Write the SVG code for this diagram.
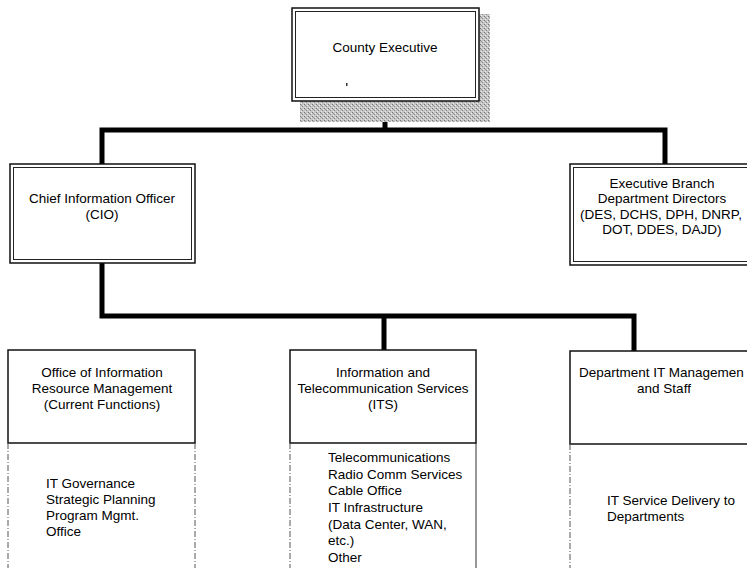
<svg xmlns="http://www.w3.org/2000/svg" width="747" height="568" viewBox="0 0 747 568">
<defs>
<pattern id="stip" width="4" height="4" patternUnits="userSpaceOnUse">
<rect width="4" height="4" fill="#c4c4c4"/>
<rect x="0" y="0" width="1" height="1" fill="#777"/>
<rect x="2" y="2" width="1" height="1" fill="#888"/>
<rect x="3" y="1" width="1" height="1" fill="#eee"/>
<rect x="1" y="3" width="1" height="1" fill="#eee"/>
<rect x="1" y="1" width="1" height="1" fill="#999"/>
</pattern>
</defs>
<style>
text{font-family:"Liberation Sans",Arial,sans-serif;font-size:13.5px;fill:#000}
.c{text-anchor:middle}
.box{fill:#fff;stroke:#111;stroke-width:1.5}
.inner{fill:none;stroke:#222;stroke-width:1}
.dash{fill:none;stroke:#555;stroke-width:1;stroke-dasharray:6 2 1 2}
.conn{fill:none;stroke:#000;stroke-width:5;stroke-linejoin:miter}
</style>
<rect width="747" height="568" fill="#fff"/>

<g id="connectors">
<path class="conn" d="M385 101 V130 M102 164 V130 H665 V164"/>
<path class="conn" d="M102 263 V316 H634 V351 M384 316 V350"/>
</g>

<g id="county-executive">
<rect x="300" y="14" width="190" height="108" fill="url(#stip)"/>
<rect class="box" x="292" y="8" width="187" height="93"/>
<rect class="inner" x="295.5" y="11.5" width="180" height="86"/>
<rect x="346" y="83" width="1.5" height="3" fill="#333"/>
<text class="c" x="385" y="52">County Executive</text>
</g>

<g id="cio">
<rect class="box" x="10" y="164" width="185" height="99"/>
<rect class="inner" x="13.5" y="167.5" width="178" height="92"/>
<text class="c" x="102" y="203">Chief Information Officer</text>
<text class="c" x="102" y="219">(CIO)</text>
</g>

<g id="exec-branch">
<rect class="box" x="570" y="164" width="190" height="101"/>
<rect class="inner" x="573.5" y="167.5" width="190" height="94"/>
<text class="c" x="662" y="188">Executive Branch</text>
<text class="c" x="662" y="203">Department Directors</text>
<text class="c" x="661" y="219">(DES, DCHS, DPH, DNRP,</text>
<text class="c" x="662" y="234">DOT, DDES, DAJD)</text>
</g>

<g id="oirm">
<rect class="box" x="8" y="350" width="187" height="93"/>
<path class="dash" d="M8 443 V568 M195 443 V568"/>
<text class="c" x="102" y="377">Office of Information</text>
<text class="c" x="102" y="393">Resource Management</text>
<text class="c" x="102" y="409">(Current Functions)</text>
<text x="46" y="488">IT Governance</text>
<text x="46" y="504">Strategic Planning</text>
<text x="46" y="520">Program Mgmt.</text>
<text x="46" y="536">Office</text>
</g>

<g id="its">
<rect class="box" x="290" y="350" width="186" height="93"/>
<path class="dash" d="M290 443 V568"/>
<path d="M476 443 V568" fill="none" stroke="#333" stroke-width="1"/>
<text class="c" x="383" y="377">Information and</text>
<text class="c" x="383" y="393">Telecommunication Services</text>
<text class="c" x="383" y="409">(ITS)</text>
<text x="328" y="462">Telecommunications</text>
<text x="328" y="478.5">Radio Comm Services</text>
<text x="328" y="495">Cable Office</text>
<text x="328" y="512">IT Infrastructure</text>
<text x="328" y="528.5">(Data Center, WAN,</text>
<text x="328" y="545">etc.)</text>
<text x="328" y="562">Other</text>
</g>

<g id="dept-it">
<rect class="box" x="570" y="351" width="190" height="93"/>
<path class="dash" d="M570 444 V568"/>
<text x="579" y="377">Department IT Managemen</text>
<text class="c" x="664" y="393">and Staff</text>
<text x="607" y="505">IT Service Delivery to</text>
<text x="607" y="521">Departments</text>
</g>
</svg>
